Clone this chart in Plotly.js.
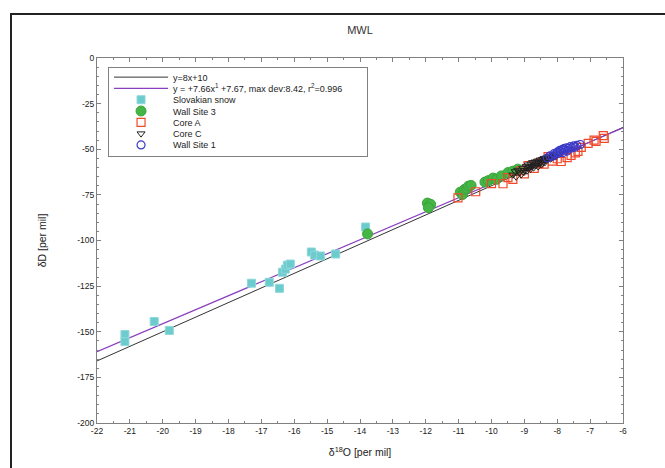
<!DOCTYPE html>
<html>
<head>
<meta charset="utf-8">
<script src="https://cdn.plot.ly/plotly-3.0.1.min.js"></script>
<style>
html,body{margin:0;padding:0;background:#fff;}
#wrap{position:relative;width:665px;height:468px;overflow:hidden;background:#fff;}
#frame{position:absolute;left:10px;top:13px;width:700px;height:500px;border-left:2px solid #222;border-top:2px solid #222;pointer-events:none;}
#chart{position:absolute;left:0;top:0;width:665px;height:468px;}
</style>
</head>
<body>
<div id="wrap"><div id="chart"></div><div id="frame"></div></div>
<script>
// Reference lines (endpoints)
const lineX = [-22, -6];
const gmwlY = [-166, -38];
const fitY = [-160.9, -38.3];

// Slovakian snow
const snowX = [-21.15, -21.15, -20.26, -19.80, -17.30, -16.76, -16.45, -16.36, -16.27, -16.21, -16.12, -15.48, -15.38, -15.20, -14.74, -13.83];
const snowY = [-151.5, -155.4, -144.4, -149.3, -123.4, -122.9, -126.2, -117.4, -115.7, -113.5, -112.9, -106.3, -108.0, -108.5, -107.4, -92.6];

// Wall Site 3
const ws3X = [-13.77, -11.95, -11.90, -11.85, -11.92, -10.95, -10.88, -10.82, -10.75, -10.70, -10.62, -10.20, -10.10, -9.95, -9.85, -9.70, -9.50, -9.35, -9.20];
const ws3Y = [-96.4, -79.5, -81.2, -80.2, -82.0, -73.5, -74.8, -72.0, -71.5, -70.2, -69.8, -68.0, -67.2, -65.8, -66.5, -64.6, -62.8, -62.0, -60.9];

// Core A
const coreAX = [-11.02, -10.48, -10.00, -9.65, -9.50, -9.35, -9.10, -9.00, -8.89, -8.70, -8.55, -8.40, -8.28, -8.15, -8.00, -7.88, -7.70, -7.58, -7.45, -7.37, -7.27, -7.06, -6.88, -6.82, -6.60, -6.57];
const coreAY = [-76.6, -73.3, -68.8, -68.9, -65.6, -66.5, -61.7, -63.5, -59.0, -60.5, -57.6, -58.2, -54.0, -56.5, -55.2, -56.7, -54.6, -53.4, -52.0, -51.2, -49.0, -46.8, -45.0, -45.7, -42.5, -44.0];

// Core C
const coreCX = [-9.35, -9.28, -9.25, -9.20, -9.15, -9.10, -9.05, -9.02, -9.00, -8.95, -8.92, -8.90, -8.88, -8.85, -8.82, -8.80, -8.78, -8.75, -8.72, -8.70, -8.68, -8.65, -8.62, -8.60, -8.58, -8.55, -8.52, -8.50, -8.48, -8.45, -8.42, -8.40, -8.38, -8.35, -8.32, -8.30, -8.25, -8.20, -8.15, -8.10, -8.05, -8.00];
const coreCY = [-64.0, -62.2, -65.1, -61.4, -62.8, -63.9, -60.3, -62.6, -61.5, -59.4, -61.8, -60.2, -58.5, -59.9, -61.0, -58.0, -59.3, -57.2, -60.1, -58.6, -56.9, -58.9, -57.5, -56.4, -59.5, -57.9, -55.8, -57.1, -58.4, -55.5, -56.8, -54.9, -57.3, -56.0, -54.6, -55.7, -53.9, -55.2, -54.4, -53.1, -54.0, -52.5];

// Wall Site 1
const ws1X = [-8.30, -8.22, -8.15, -8.10, -8.05, -8.00, -7.95, -7.92, -7.90, -7.85, -7.82, -7.80, -7.75, -7.72, -7.70, -7.65, -7.60, -7.55, -7.50, -7.45, -7.40, -7.30];
const ws1Y = [-54.8, -53.6, -53.9, -52.4, -52.9, -51.6, -52.0, -50.6, -51.3, -50.2, -51.8, -49.7, -50.4, -49.2, -51.0, -49.5, -48.6, -49.3, -48.2, -48.8, -47.9, -47.4];

const names = ['y=8x+10', 'y = +7.66x<sup>1</sup> +7.67, max dev:8.42, r<sup>2</sup>=0.996', 'Slovakian snow', 'Wall Site 3', 'Core A', 'Core C', 'Wall Site 1'];
const xTicks = [-22,-21,-20,-19,-18,-17,-16,-15,-14,-13,-12,-11,-10,-9,-8,-7,-6];
const yTicks = [-200,-175,-150,-125,-100,-75,-50,-25,0];

const traces = [
  {x: lineX, y: gmwlY, name: names[0], mode: 'lines', line: {color: '#333333', width: 1}},
  {x: lineX, y: fitY, name: names[1], mode: 'lines', line: {color: '#8a3fc0', width: 1.2}},
  {x: snowX, y: snowY, name: names[2], mode: 'markers', marker: {symbol: 'square', size: 8, color: '#6ccbcd', line: {color: '#8fd8da', width: 1}}},
  {x: ws3X, y: ws3Y, name: names[3], mode: 'markers', marker: {symbol: 'circle', size: 10, color: '#45b545', line: {color: '#3aa53a', width: 1}}},
  {x: coreAX, y: coreAY, name: names[4], mode: 'markers', marker: {symbol: 'square-open', size: 8, color: '#f0492a', line: {width: 1.2}}},
  {x: coreCX, y: coreCY, name: names[5], mode: 'markers', marker: {symbol: 'triangle-down-open', size: 7, color: '#222222', line: {width: 1}}},
  {x: ws1X, y: ws1Y, name: names[6], mode: 'markers', marker: {symbol: 'circle-open', size: 8, color: '#3a3ac8', line: {width: 1.2}}}
];

const axisCommon = {
  showgrid: false, zeroline: false, showline: true, linecolor: '#808080', linewidth: 1,
  mirror: 'ticks', ticks: 'inside', tickcolor: '#808080', ticklen: 4, tickwidth: 1,
  tickfont: {family: 'Liberation Sans, Arial, sans-serif', size: 8.5, color: '#222'}
};

const layout = {
  width: 665, height: 468,
  margin: {l: 97, r: 42, t: 58, b: 45},
  paper_bgcolor: 'rgba(0,0,0,0)', plot_bgcolor: '#fff',
  showlegend: true,
  title: {text: 'MWL', font: {family: 'Liberation Sans, Arial, sans-serif', size: 11, color: '#333'}, xref: 'paper', x: 0.5, xanchor: 'center', yref: 'container', y: 0.936, yanchor: 'middle'},
  xaxis: Object.assign({}, axisCommon, {
    range: [-22, -6], tickvals: xTicks, ticktext: xTicks.map(String),
    minor: {dtick: 0.5, ticks: 'inside', ticklen: 2, tickcolor: '#808080'},
    title: {text: 'δ<sup>18</sup>O [per mil]', standoff: 13, font: {family: 'Liberation Sans, Arial, sans-serif', size: 10.5, color: '#222'}}
  }),
  yaxis: Object.assign({}, axisCommon, {
    range: [-200, 0], tickvals: yTicks, ticktext: yTicks.map(String),
    minor: {dtick: 5, ticks: 'inside', ticklen: 2, tickcolor: '#808080'},
    title: {text: 'δD [per mil]', standoff: 28, font: {family: 'Liberation Sans, Arial, sans-serif', size: 10.5, color: '#222'}}
  }),
  legend: {
    x: 0.021, xanchor: 'left', y: 0.975, yanchor: 'top',
    bgcolor: '#fff', bordercolor: '#808080', borderwidth: 1,
    font: {family: 'Liberation Sans, Arial, sans-serif', size: 9, color: '#222'},
    itemwidth: 54, tracegroupgap: 0
  }
};

Plotly.newPlot('chart', traces, layout, {displayModeBar: false, staticPlot: true}).then(function(gd) {
  // tighten legend row spacing
  const leg = gd.querySelector('.legend');
  if (!leg) return;
  const items = leg.querySelectorAll('.traces');
  const step = 11.3;
  const first = 10;
  items.forEach(function(el, i) {
    const tr = el.getAttribute('transform') || '';
    const m = tr.match(/translate\(\s*([-\d.]+)[ ,]+([-\d.]+)\s*\)/);
    const tx = m ? parseFloat(m[1]) : 0;
    el.setAttribute('transform', 'translate(' + tx + ',' + (first + i * step) + ')');
  });
  const bg = leg.querySelector('.bg');
  if (bg) {
    bg.setAttribute('height', 89);
    bg.setAttribute('width', 259);
    bg.style.height = '89px';
    bg.style.width = '259px';
  }
});
</script>
</body>
</html>
